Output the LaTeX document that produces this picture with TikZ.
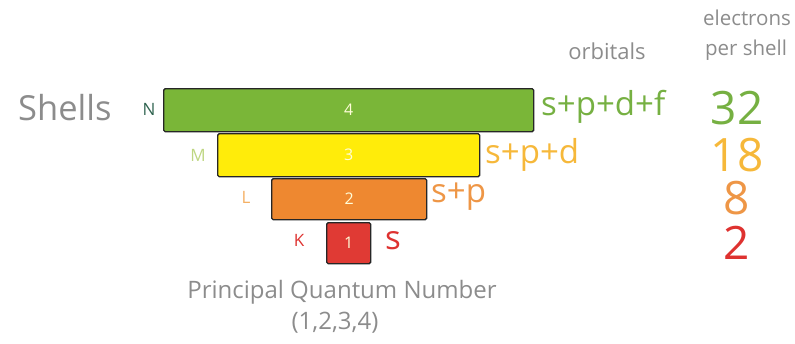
\documentclass[tikz,border=0pt]{standalone}
\usepackage{fontspec}
\setmainfont{Open Sans}
\begin{document}
\begin{tikzpicture}[x=1pt,y=-1pt,
  shellbox/.style={draw=black!85,line width=1.4pt,rounded corners=1.5pt},
  boxnum/.style={text=white!85!yellow,font=\fontsize{16}{16}\selectfont},
  letter/.style={font=\fontsize{17}{17}\selectfont},
  orb/.style={font=\fontsize{33}{33}\selectfont,anchor=west,inner sep=0pt},
  cnt/.style={font=\fontsize{46}{46}\selectfont,inner sep=0pt},
  graytext/.style={text=black!45}]
\useasboundingbox (0,0) rectangle (795,343);
\definecolor{cgreen}{RGB}{122,182,56}
\definecolor{cyellow}{RGB}{255,236,10}
\definecolor{corange}{RGB}{238,136,48}
\definecolor{cred}{RGB}{224,58,52}
\definecolor{tgreen}{RGB}{118,176,66}
\definecolor{tyellow}{RGB}{246,184,58}
\definecolor{torange}{RGB}{238,150,70}
\definecolor{tred}{RGB}{222,50,48}
\definecolor{ngreen}{RGB}{48,100,80}
\definecolor{mgreen}{RGB}{190,214,130}
\definecolor{lorange}{RGB}{244,176,100}

\node[shellbox,fill=cgreen,minimum width=370pt,minimum height=43pt,anchor=north west,boxnum] (N) at (163,88) {4};
\node[shellbox,fill=cyellow,minimum width=262pt,minimum height=43pt,anchor=north west,boxnum] (M) at (217,133) {3};
\node[shellbox,fill=corange,minimum width=155pt,minimum height=41pt,anchor=north west,boxnum] (L) at (271,178) {2};
\node[shellbox,fill=cred,minimum width=44pt,minimum height=41pt,anchor=north west,boxnum] (K) at (326,222) {1};

\node[letter,text=ngreen] (nN) at (149,109) {N};
\node[letter,text=mgreen] (nM) at (198,155) {M};
\node[letter,text=lorange] (nL) at (246,197) {L};
\node[letter,text=tred] (nK) at (299,240) {K};

\node[graytext,font=\fontsize{34.5}{34.5}\selectfont,anchor=west,inner sep=0pt] (shells) at (18,108) {Shells};

\node[orb,text=tgreen] (oN) at (541,107) {s+p+d+f};
\node[orb,text=tyellow] (oM) at (485,155) {s+p+d};
\node[orb,text=torange] (oL) at (431,197) {s+p};
\node[orb,text=tred] (oK) at (385,241) {s};

\node[graytext,font=\fontsize{22}{22}\selectfont] (orbh) at (607,51) {orbitals};
\node[graytext,font=\fontsize{20.5}{20.5}\selectfont,inner sep=0pt] (elh1) at (747,18) {electrons};
\node[graytext,font=\fontsize{20.5}{20.5}\selectfont,inner sep=0pt] (elh2) at (746,50) {per shell};

\node[cnt,text=tgreen] (c32) at (737,108) {32};
\node[cnt,text=tyellow] (c18) at (737,155) {18};
\node[cnt,text=torange] (c8) at (737,198) {8};
\node[cnt,text=tred] (c2) at (737,243) {2};

\node[graytext,font=\fontsize{24}{24}\selectfont,inner sep=0pt] (pqn) at (342,292) {Principal Quantum Number};
\node[graytext,font=\fontsize{24}{24}\selectfont,inner sep=0pt] (pqn2) at (335,323) {(1,2,3,4)};
\end{tikzpicture}
\end{document}
